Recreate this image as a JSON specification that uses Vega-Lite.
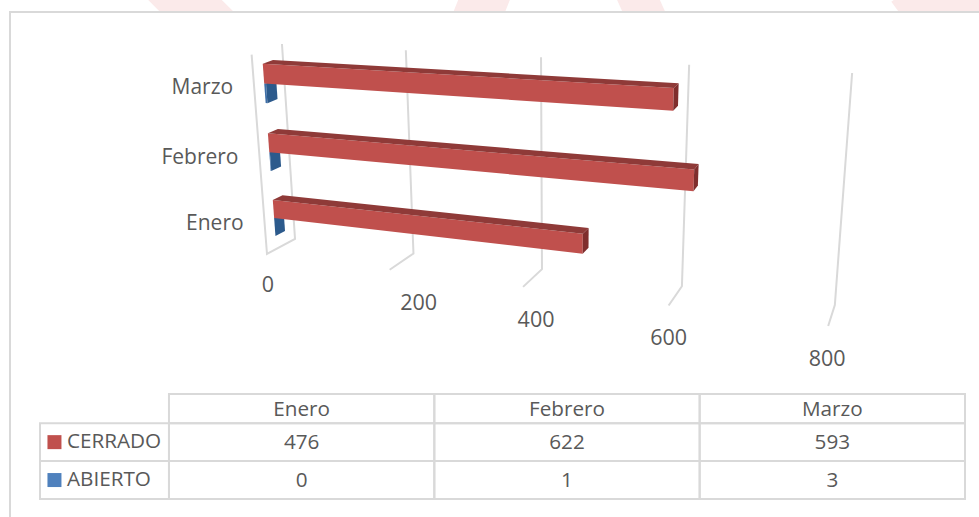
{
  "$schema": "https://vega.github.io/schema/vega-lite/v6.json",
  "description": "Casos abiertos y cerrados por mes: barras horizontales en perspectiva con tabla de datos debajo.",
  "width": 979,
  "height": 517,
  "padding": 0,
  "autosize": "none",
  "background": "white",
  "config": {"view": {"stroke": null}, "text": {"font": "Open Sans", "color": "#595959"}},
  "datasets": {
    "barras": [
      {"mes": "Enero", "serie": "ABIERTO", "valor": 0},
      {"mes": "Febrero", "serie": "ABIERTO", "valor": 1},
      {"mes": "Marzo", "serie": "ABIERTO", "valor": 3},
      {"mes": "Enero", "serie": "CERRADO", "valor": 476},
      {"mes": "Febrero", "serie": "CERRADO", "valor": 622},
      {"mes": "Marzo", "serie": "CERRADO", "valor": 593}
    ],
    "marcas": [{"valor": 0}, {"valor": 200}, {"valor": 400}, {"valor": 600}, {"valor": 800}]
  },
  "resolve": {"scale": {"x": "independent", "y": "independent", "color": "independent", "fill": "independent"}},
  "layer": [
    {
      "data": {"values": [{}]},
      "mark": {"type": "rule", "stroke": "#fbeaea", "strokeWidth": 52},
      "encoding": {"x": {"value": 155}, "x2": {"value": 215}, "y": {"value": -30}, "y2": {"value": 30}}
    },
    {
      "data": {"values": [{}]},
      "mark": {"type": "rule", "stroke": "#fbeaea", "strokeWidth": 48},
      "encoding": {"x": {"value": 496}, "x2": {"value": 472}, "y": {"value": -30}, "y2": {"value": 30}}
    },
    {
      "data": {"values": [{}]},
      "mark": {"type": "rule", "stroke": "#fbeaea", "strokeWidth": 39},
      "encoding": {"x": {"value": 625}, "x2": {"value": 652}, "y": {"value": -30}, "y2": {"value": 30}}
    },
    {
      "data": {"values": [{}]},
      "mark": {"type": "rule", "stroke": "#fbeaea", "strokeWidth": 70},
      "encoding": {"x": {"value": 994}, "x2": {"value": 912}, "y": {"value": -30}, "y2": {"value": 30}}
    },
    {
      "data": {"values": [{}]},
      "mark": {"type": "rect", "fill": "white", "stroke": "#d9d9d9", "strokeWidth": 2},
      "encoding": {"x": {"value": 10}, "x2": {"value": 1200}, "y": {"value": 12}, "y2": {"value": 800}}
    },
    {
      "data": {"name": "marcas"},
      "transform": [
        {"calculate": "datum.valor/200", "as": "u"},
        {"calculate": "datum.valor===0 ? [{n:0,h:1,d:0},{n:1,h:0,d:0},{n:2,h:0,d:1},{n:3,h:1,d:1}] : [{n:1,h:0,d:0},{n:2,h:0,d:1},{n:3,h:1,d:1}]", "as": "verts"},
        {"flatten": ["verts"], "as": ["v"]},
        {"calculate": "datum.v.n", "as": "n"},
        {"calculate": "1-0.0402*datum.u-0.0645*datum.v.h+0.026*datum.v.d", "as": "w"},
        {"calculate": "(267+(107-2.1*datum.v.d-2.1*datum.v.h)*datum.u-31.6*datum.v.h+35.7*datum.v.d)/datum.w", "as": "px"},
        {"calculate": "(254+(4.9-0.23*datum.v.d-0.63*datum.v.h)*datum.u-202.9*datum.v.h-8.8*datum.v.d)/datum.w", "as": "py"}
      ],
      "mark": {"type": "line", "stroke": "#d9d9d9", "strokeWidth": 2},
      "encoding": {
        "x": {"field": "px", "type": "quantitative", "axis": null, "scale": {"domain": [0, 979], "range": [0, 979], "nice": false, "zero": false}},
        "y": {"field": "py", "type": "quantitative", "axis": null, "scale": {"domain": [0, 517], "range": [0, 517], "nice": false, "zero": false}},
        "detail": {"field": "valor", "type": "nominal"},
        "order": {"field": "n", "type": "quantitative"}
      }
    },
    {
      "data": {"name": "marcas"},
      "transform": [
        {"calculate": "datum.valor/200", "as": "u"},
        {"calculate": "1-0.0402*datum.u", "as": "w"},
        {"calculate": "(267+107*datum.u)/datum.w+[1,29,13,0,-1][datum.u]", "as": "px"},
        {"calculate": "(254+4.9*datum.u)/datum.w+[32,34,34,33,34][datum.u]", "as": "py"}
      ],
      "mark": {"type": "text", "fontSize": 21.5, "align": "center", "baseline": "middle", "font": "Open Sans", "color": "#595959"},
      "encoding": {
        "x": {"field": "px", "type": "quantitative", "axis": null, "scale": {"domain": [0, 979], "range": [0, 979], "nice": false, "zero": false}},
        "y": {"field": "py", "type": "quantitative", "axis": null, "scale": {"domain": [0, 517], "range": [0, 517], "nice": false, "zero": false}},
        "text": {"field": "valor", "type": "nominal"}
      }
    },
    {
      "data": {"name": "barras"},
      "transform": [
        {"calculate": "indexof(['Enero','Febrero','Marzo'],datum.mes)", "as": "i"},
        {"calculate": "0.07+0.34*datum.i+(datum.serie==='CERRADO'?0.095:0)", "as": "lo"},
        {"calculate": "datum.lo+0.095", "as": "hi"},
        {"calculate": "datum.valor/200", "as": "u"},
        {"calculate": "[{c:'frente',n:0,u:0,h:datum.hi,d:0.33},{c:'frente',n:1,u:datum.u,h:datum.hi,d:0.33},{c:'frente',n:2,u:datum.u,h:datum.lo,d:0.33},{c:'frente',n:3,u:0,h:datum.lo,d:0.33},{c:'techo',n:0,u:0,h:datum.hi,d:0.33},{c:'techo',n:1,u:0,h:datum.hi,d:0.67},{c:'techo',n:2,u:datum.u,h:datum.hi,d:0.67},{c:'techo',n:3,u:datum.u,h:datum.hi,d:0.33},{c:'lado',n:0,u:datum.u,h:datum.hi,d:0.33},{c:'lado',n:1,u:datum.u,h:datum.hi,d:0.67},{c:'lado',n:2,u:datum.u,h:datum.lo,d:0.67},{c:'lado',n:3,u:datum.u,h:datum.lo,d:0.33}]", "as": "verts"},
        {"flatten": ["verts"], "as": ["v"]},
        {"calculate": "datum.v.n", "as": "n"},
        {"calculate": "datum.serie+' '+datum.v.c", "as": "tono"},
        {"calculate": "1-0.0402*datum.v.u-0.0645*datum.v.h+0.026*datum.v.d", "as": "w"},
        {"calculate": "(267+(107-2.1*datum.v.d-2.1*datum.v.h)*datum.v.u-31.6*datum.v.h+35.7*datum.v.d)/datum.w", "as": "px"},
        {"calculate": "(254+(4.9-0.23*datum.v.d-0.63*datum.v.h)*datum.v.u-202.9*datum.v.h-8.8*datum.v.d)/datum.w", "as": "py"}
      ],
      "mark": {"type": "line", "interpolate": "linear-closed", "strokeWidth": 0},
      "encoding": {
        "x": {"field": "px", "type": "quantitative", "axis": null, "scale": {"domain": [0, 979], "range": [0, 979], "nice": false, "zero": false}},
        "y": {"field": "py", "type": "quantitative", "axis": null, "scale": {"domain": [0, 517], "range": [0, 517], "nice": false, "zero": false}},
        "detail": {"field": "mes", "type": "nominal"},
        "order": {"field": "n", "type": "quantitative"},
        "fill": {
          "field": "tono",
          "type": "nominal",
          "legend": null,
          "scale": {
            "domain": ["ABIERTO frente", "ABIERTO techo", "ABIERTO lado", "CERRADO frente", "CERRADO techo", "CERRADO lado"],
            "range": ["#3e6fa8", "#2f5f96", "#2c5a8c", "#c0504d", "#8f3a38", "#7f2e2d"]
          }
        }
      }
    },
    {
      "data": {"name": "barras"},
      "transform": [
        {"filter": "datum.serie==='CERRADO'"},
        {"calculate": "0.165+0.34*indexof(['Enero','Febrero','Marzo'],datum.mes)", "as": "h"},
        {"calculate": "1-0.0645*datum.h", "as": "w"},
        {"calculate": "(267-31.6*datum.h)/datum.w-21", "as": "px"},
        {"calculate": "(254-202.9*datum.h)/datum.w+1", "as": "py"}
      ],
      "mark": {"type": "text", "fontSize": 21, "align": "right", "baseline": "middle", "font": "Open Sans", "color": "#595959"},
      "encoding": {
        "x": {"field": "px", "type": "quantitative", "axis": null, "scale": {"domain": [0, 979], "range": [0, 979], "nice": false, "zero": false}},
        "y": {"field": "py", "type": "quantitative", "axis": null, "scale": {"domain": [0, 517], "range": [0, 517], "nice": false, "zero": false}},
        "text": {"field": "mes", "type": "nominal"}
      }
    },
    {
      "data": {"name": "barras"},
      "transform": [
        {"calculate": "indexof(['Enero','Febrero','Marzo'],datum.mes)", "as": "col"},
        {"calculate": "datum.col+1", "as": "col2"},
        {"calculate": "datum.serie==='CERRADO'?0:1", "as": "fil"},
        {"calculate": "datum.fil+1", "as": "fil2"}
      ],
      "mark": {"type": "rect", "fill": "transparent", "stroke": "#d9d9d9", "strokeWidth": 2},
      "encoding": {
        "x": {"field": "col", "type": "quantitative", "axis": null, "scale": {"domain": [-0.486, 3], "range": [40, 965], "nice": false, "zero": false}},
        "x2": {"field": "col2"},
        "y": {"field": "fil", "type": "quantitative", "axis": null, "scale": {"domain": [-0.77, 2], "range": [394, 499], "nice": false, "zero": false}},
        "y2": {"field": "fil2"}
      }
    },
    {
      "data": {"name": "barras"},
      "transform": [
        {"filter": "datum.serie==='CERRADO'"},
        {"calculate": "indexof(['Enero','Febrero','Marzo'],datum.mes)", "as": "col"},
        {"calculate": "datum.col+1", "as": "col2"},
        {"calculate": "-0.77", "as": "fil"},
        {"calculate": "0", "as": "fil2"}
      ],
      "mark": {"type": "rect", "fill": "transparent", "stroke": "#d9d9d9", "strokeWidth": 2},
      "encoding": {
        "x": {"field": "col", "type": "quantitative", "axis": null, "scale": {"domain": [-0.486, 3], "range": [40, 965], "nice": false, "zero": false}},
        "x2": {"field": "col2"},
        "y": {"field": "fil", "type": "quantitative", "axis": null, "scale": {"domain": [-0.77, 2], "range": [394, 499], "nice": false, "zero": false}},
        "y2": {"field": "fil2"}
      }
    },
    {
      "data": {"name": "barras"},
      "transform": [
        {"filter": "datum.mes==='Enero'"},
        {"calculate": "-0.486", "as": "col"},
        {"calculate": "0", "as": "col2"},
        {"calculate": "datum.serie==='CERRADO'?0:1", "as": "fil"},
        {"calculate": "datum.fil+1", "as": "fil2"}
      ],
      "mark": {"type": "rect", "fill": "transparent", "stroke": "#d9d9d9", "strokeWidth": 2},
      "encoding": {
        "x": {"field": "col", "type": "quantitative", "axis": null, "scale": {"domain": [-0.486, 3], "range": [40, 965], "nice": false, "zero": false}},
        "x2": {"field": "col2"},
        "y": {"field": "fil", "type": "quantitative", "axis": null, "scale": {"domain": [-0.77, 2], "range": [394, 499], "nice": false, "zero": false}},
        "y2": {"field": "fil2"}
      }
    },
    {
      "data": {"name": "barras"},
      "transform": [
        {"calculate": "indexof(['Enero','Febrero','Marzo'],datum.mes)+0.5", "as": "col"},
        {"calculate": "datum.serie==='CERRADO'?0.53:1.53", "as": "fil"}
      ],
      "mark": {"type": "text", "fontSize": 20.7, "align": "center", "baseline": "middle", "font": "Open Sans", "color": "#595959"},
      "encoding": {
        "x": {"field": "col", "type": "quantitative", "axis": null, "scale": {"domain": [-0.486, 3], "range": [40, 965], "nice": false, "zero": false}},
        "y": {"field": "fil", "type": "quantitative", "axis": null, "scale": {"domain": [-0.77, 2], "range": [394, 499], "nice": false, "zero": false}},
        "text": {"field": "valor", "type": "nominal"}
      }
    },
    {
      "data": {"name": "barras"},
      "transform": [
        {"filter": "datum.serie==='CERRADO'"},
        {"calculate": "indexof(['Enero','Febrero','Marzo'],datum.mes)+0.5", "as": "col"},
        {"calculate": "-0.36", "as": "fil"}
      ],
      "mark": {"type": "text", "fontSize": 20.7, "align": "center", "baseline": "middle", "font": "Open Sans", "color": "#595959"},
      "encoding": {
        "x": {"field": "col", "type": "quantitative", "axis": null, "scale": {"domain": [-0.486, 3], "range": [40, 965], "nice": false, "zero": false}},
        "y": {"field": "fil", "type": "quantitative", "axis": null, "scale": {"domain": [-0.77, 2], "range": [394, 499], "nice": false, "zero": false}},
        "text": {"field": "mes", "type": "nominal"}
      }
    },
    {
      "data": {"name": "barras"},
      "transform": [
        {"filter": "datum.mes==='Enero'"},
        {"calculate": "-0.4315", "as": "col"},
        {"calculate": "datum.serie==='CERRADO'?0.5:1.5", "as": "fil"}
      ],
      "mark": {"type": "square", "size": 196, "filled": true, "opacity": 1},
      "encoding": {
        "x": {"field": "col", "type": "quantitative", "axis": null, "scale": {"domain": [-0.486, 3], "range": [40, 965], "nice": false, "zero": false}},
        "y": {"field": "fil", "type": "quantitative", "axis": null, "scale": {"domain": [-0.77, 2], "range": [394, 499], "nice": false, "zero": false}},
        "color": {"field": "serie", "type": "nominal", "legend": null, "scale": {"domain": ["CERRADO", "ABIERTO"], "range": ["#c0504d", "#4f81bd"]}}
      }
    },
    {
      "data": {"name": "barras"},
      "transform": [
        {"filter": "datum.mes==='Enero'"},
        {"calculate": "-0.3845", "as": "col"},
        {"calculate": "datum.serie==='CERRADO'?0.5:1.5", "as": "fil"}
      ],
      "mark": {"type": "text", "fontSize": 20.7, "align": "left", "baseline": "middle", "font": "Open Sans", "color": "#595959"},
      "encoding": {
        "x": {"field": "col", "type": "quantitative", "axis": null, "scale": {"domain": [-0.486, 3], "range": [40, 965], "nice": false, "zero": false}},
        "y": {"field": "fil", "type": "quantitative", "axis": null, "scale": {"domain": [-0.77, 2], "range": [394, 499], "nice": false, "zero": false}},
        "text": {"field": "serie", "type": "nominal"}
      }
    }
  ]
}
